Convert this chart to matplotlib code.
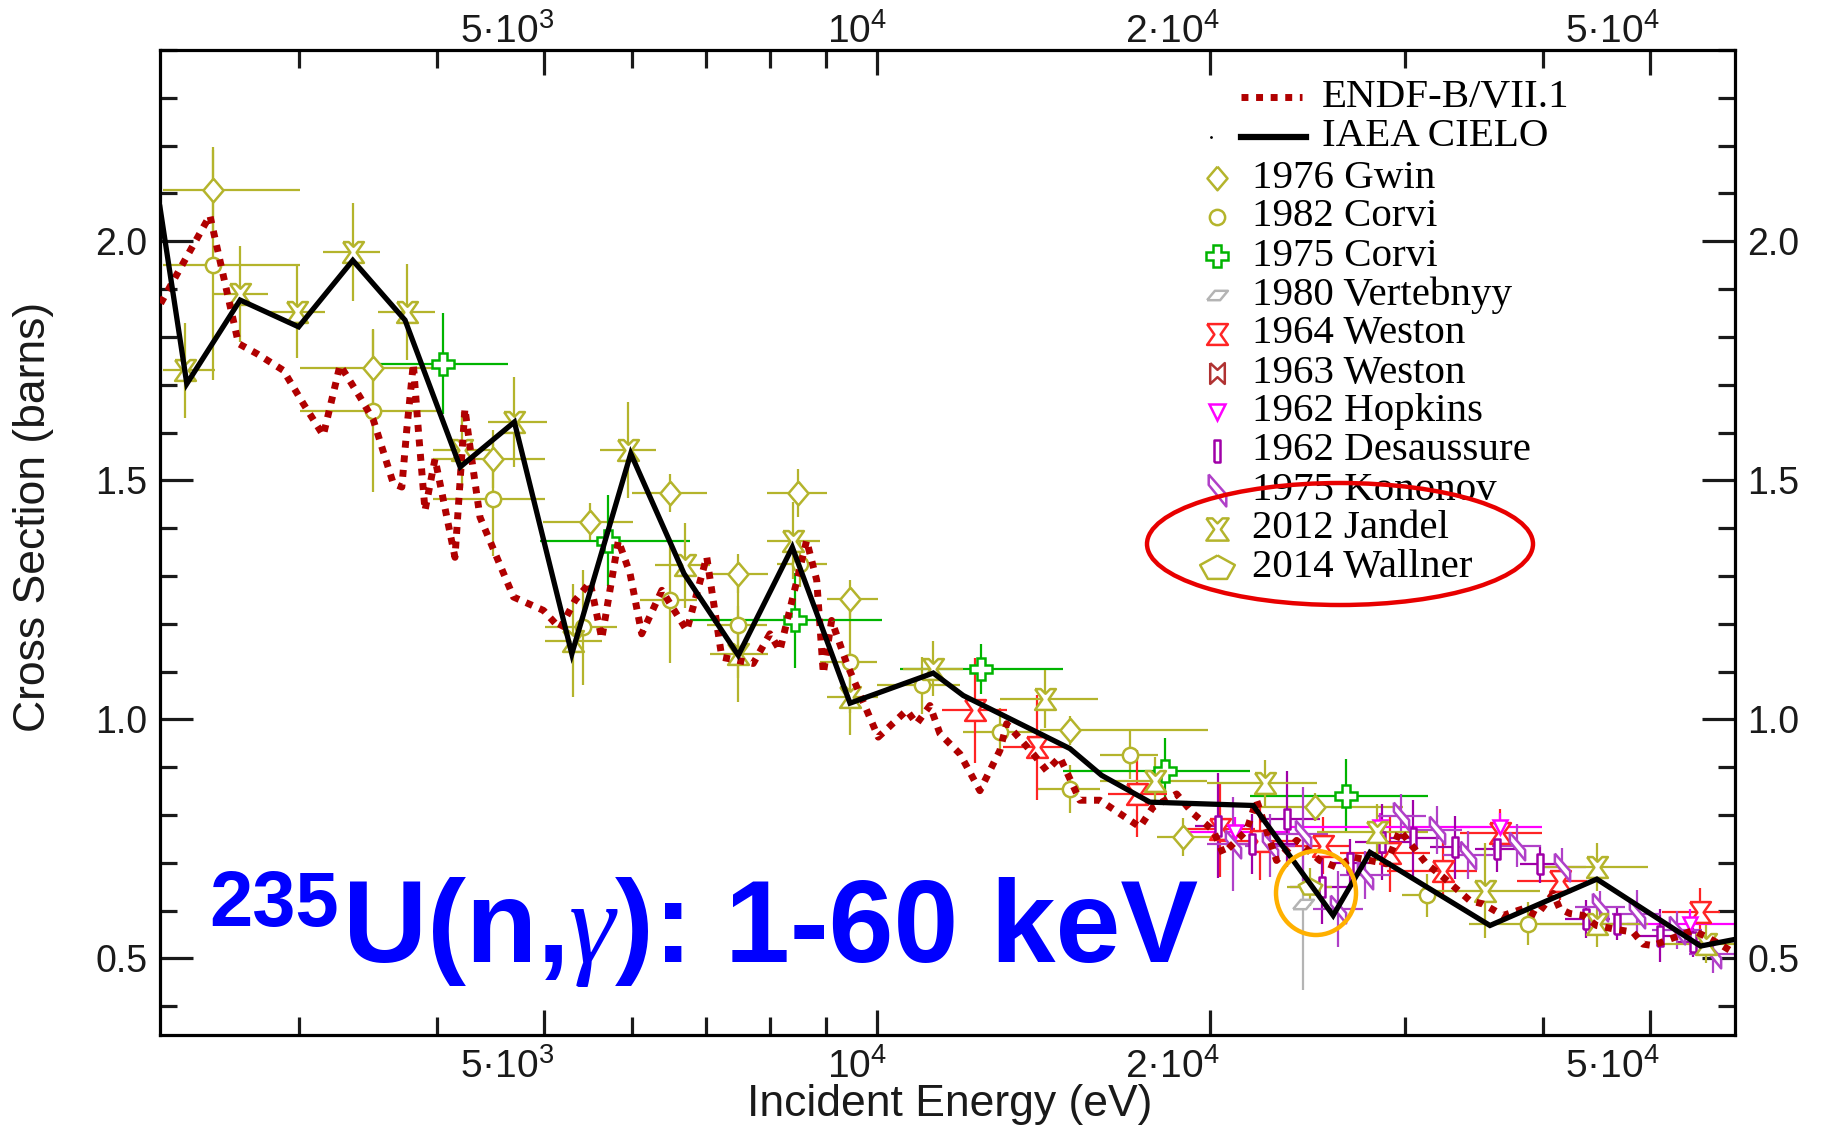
import matplotlib
matplotlib.use("Agg")
import matplotlib.pyplot as plt
import matplotlib.transforms as mtransforms
import numpy as np
from matplotlib.patches import Ellipse
from matplotlib.ticker import FixedLocator, MultipleLocator, NullFormatter, FixedFormatter

plt.rcParams['font.family'] = ['Liberation Sans', 'DejaVu Sans']
plt.rcParams['mathtext.default'] = 'regular'

# ---- evaluated curves (energy in eV, cross section in barns)
endf_e = [2250, 2493, 2646, 2749, 2905, 3029, 3157, 3269, 3408, 3504, 3653, 3718, 3756, 3808,
          3848, 3902, 3984, 4153, 4240, 4285, 4375, 4691, 4993, 5169, 5333, 5503, 5638, 5836,
          5980, 6127, 6389, 6730, 7015, 7239, 7728, 8002, 8170, 8637, 8821, 8943, 9099, 9389,
          10027, 10638, 10862, 11166, 11402, 11885, 12390, 12917, 13100, 13844, 14235, 14636,
          15256, 15905, 17289, 17775, 18664, 19320, 20142, 20565, 21592, 22045, 22982, 23961,
          25148, 26037, 26958, 28893, 29709, 31407, 32510, 34372, 35336, 36838, 38400, 39498,
          40886, 41450, 42330, 43517, 44745, 46316, 48285, 49307, 50339, 51761, 53211, 54713,
          56259, 57838, 59458]
endf_xs = [1.870, 2.054, 1.786, 1.765, 1.730, 1.660, 1.594, 1.741, 1.674, 1.626, 1.493, 1.486,
           1.605, 1.744, 1.605, 1.437, 1.545, 1.339, 1.650, 1.570, 1.423, 1.256, 1.228, 1.190,
           1.249, 1.287, 1.169, 1.374, 1.305, 1.179, 1.270, 1.186, 1.340, 1.130, 1.117, 1.179,
           1.144, 1.374, 1.291, 1.096, 1.207, 1.117, 0.963, 1.019, 0.991, 1.029, 0.970, 0.928,
           0.851, 0.935, 0.991, 0.928, 0.893, 0.921, 0.831, 0.831, 0.775, 0.817, 0.844, 0.803,
           0.768, 0.719, 0.768, 0.831, 0.705, 0.747, 0.705, 0.691, 0.712, 0.698, 0.768, 0.698,
           0.670, 0.621, 0.614, 0.590, 0.604, 0.590, 0.636, 0.604, 0.594, 0.590, 0.569, 0.562,
           0.555, 0.530, 0.527, 0.538, 0.548, 0.559, 0.545, 0.530, 0.513]

cielo_e = [2247, 2376, 2655, 2999, 3357, 3743, 4198, 4700, 5297, 5989, 6691, 7492, 8384, 9454,
           11243, 11969, 14946, 15966, 17654, 21890, 25856, 27917, 35840, 44774, 55564, 59700]
cielo_xs = [2.071, 1.702, 1.877, 1.821, 1.960, 1.835, 1.528, 1.622, 1.137, 1.556, 1.305, 1.134,
            1.360, 1.034, 1.097, 1.050, 0.939, 0.883, 0.827, 0.820, 0.590, 0.722, 0.569, 0.666,
            0.526, 0.540]

# ---- experiments: energy, xs, xs error, energy bin low / high
gwin_e = [2508, 3504, 4498, 5503, 6500, 7492, 8487, 9453, 14946, 18920, 24888]
gwin_xs = [2.108, 1.734, 1.545, 1.413, 1.474, 1.305, 1.474, 1.252, 0.977, 0.754, 0.817]
gwin_dxs = [0.09, 0.08, 0.06, 0.04, 0.04, 0.04, 0.05, 0.04, 0.03, 0.04, 0.03]
gwin_lo = [2262, 3008, 3967, 4989, 6001, 7063, 7948, 9006, 14039, 17914, 21742]
gwin_hi = [3008, 4009, 5010, 6017, 7015, 7977, 9006, 10027, 19920, 20086, 29894]

corvi82_e = [2508, 3504, 4498, 5427, 6500, 7492, 8518, 9453, 10976, 12917, 14946, 16933, 31407, 38800]
corvi82_xs = [1.950, 1.646, 1.462, 1.193, 1.249, 1.197, 1.326, 1.120, 1.071, 0.973, 0.855, 0.925, 0.632, 0.573]
corvi82_dxs = [0.24, 0.17, 0.12, 0.12, 0.13, 0.11, 0.05, 0.107, 0.06, 0.05, 0.05, 0.05, 0.045, 0.045]
corvi82_lo = [2262, 3008, 3967, 5010, 6106, 7015, 8115, 8883, 9994, 11960, 13980, 15905, 29833, 34300]
corvi82_hi = [3008, 4009, 5010, 5819, 6871, 7948, 9006, 9994, 11885, 14039, 15905, 17951, 32500, 43752]

corvi75_e = [4048, 5715, 8431, 12417, 18214, 26532]
corvi75_xs = [1.744, 1.374, 1.207, 1.106, 0.892, 0.840]
corvi75_dxs = [0.105, 0.096, 0.10, 0.052, 0.07, 0.077]
corvi75_lo = [3455, 4958, 6775, 10490, 14730, 21742]
corvi75_hi = [4640, 6775, 10098, 14730, 21742, 31493]

vert_e = [24300]
vert_xs = [0.614]
vert_dxs = [0.18]
vert_lo = [24300]
vert_hi = [24300]

weston64_e = [12264, 13941, 17171, 20423, 22198, 25322, 29099, 32510, 36585, 41449, 55478]
weston64_xs = [1.019, 0.942, 0.845, 0.770, 0.745, 0.736, 0.720, 0.684, 0.762, 0.663, 0.597]
weston64_dxs = [0.11, 0.11, 0.09, 0.10, 0.08, 0.06, 0.08, 0.06, 0.05, 0.04, 0.05]
weston64_lo = [11442, 12999, 16175, 18990, 20423, 22662, 26224, 28916, 33659, 37908, 51263]
weston64_hi = [13100, 14852, 18290, 21968, 24127, 26770, 31623, 34874, 39940, 43853, 57838]

hopkins_e = [21071, 28497, 36585, 54339]
hopkins_xs = [0.765, 0.775, 0.775, 0.573]
hopkins_dxs = [0.03, 0.03, 0.03, 0.03]
hopkins_lo = [19187, 23628, 33659, 47665]
hopkins_hi = [23628, 34372, 39940, 59700]

desa_e = [20350, 21820, 23470, 25240, 26770, 28600, 30540, 33320, 36340, 39770, 43820, 46650, 51050, 54710]
desa_xs = [0.778, 0.740, 0.792, 0.649, 0.700, 0.744, 0.751, 0.733, 0.730, 0.698, 0.583, 0.573, 0.548, 0.534]
desa_dxs = [0.11, 0.063, 0.10, 0.077, 0.05, 0.08, 0.08, 0.066, 0.05, 0.04, 0.04, 0.035, 0.055, 0.03]
desa_lo = [19390, 20640, 22200, 23630, 25680, 27050, 29100, 31620, 34730, 38140, 41890, 45000, 48900, 52800]
desa_hi = [21510, 23961, 25150, 26770, 27910, 30330, 32280, 34300, 38140, 41450, 46000, 48600, 53200, 56800]

kono_e = [21000, 22660, 24290, 26130, 27620, 29810, 32070, 34240, 37880, 41600, 45050, 48630, 52860, 57040]
kono_xs = [0.740, 0.736, 0.761, 0.604, 0.675, 0.799, 0.768, 0.716, 0.736, 0.691, 0.607, 0.594, 0.559, 0.510]
kono_dxs = [0.098, 0.066, 0.098, 0.08, 0.05, 0.045, 0.05, 0.05, 0.045, 0.04, 0.035, 0.05, 0.04, 0.04]
kono_lo = [19900, 21500, 23000, 24800, 26200, 28300, 30400, 32500, 36000, 39500, 42800, 46200, 50200, 54200]
kono_hi = [22100, 23900, 25600, 27500, 29100, 31400, 33800, 36100, 39900, 43800, 47500, 51200, 55700, 60100]

jandel_e = [2367, 2655, 2987, 3357, 3756, 4211, 4699, 5314, 5958, 6705, 7492, 8402, 9453, 11243,
            14186, 17839, 22428, 28302, 35458, 44745, 44745, 56259]
jandel_xs = [1.730, 1.890, 1.852, 1.978, 1.852, 1.563, 1.622, 1.165, 1.563, 1.322, 1.137, 1.374,
             1.047, 1.106, 1.043, 0.872, 0.866, 0.764, 0.642, 0.691, 0.573, 0.530]
jandel_dxs = [0.10, 0.10, 0.096, 0.103, 0.10, 0.08, 0.094, 0.118, 0.10, 0.089, 0.10, 0.08, 0.08,
              0.058, 0.06, 0.05, 0.05, 0.06, 0.10, 0.05, 0.05, 0.04]
jandel_lo = [2262, 2510, 2826, 3157, 3538, 3967, 4449, 5010, 5618, 6300, 7063, 7948, 9006, 10556,
             12917, 15905, 19876, 24990, 31493, 39510, 39770, 51050]
jandel_hi = [2520, 2814, 3168, 3553, 3984, 4467, 5031, 5638, 6318, 7063, 7977, 8883, 10027, 11960,
             15847, 19876, 24990, 31493, 39770, 49787, 49800, 59700]

wallner_e = [24636]
wallner_xs = [0.650]
wallner_dxs = [0.04]
wallner_lo = [23500]
wallner_hi = [25800]

xtick_e = [5000, 10000, 20000, 50000]
xtick_txt = ['5·10$^3$', '10$^4$', '2·10$^4$', '5·10$^4$']
xminor_e = [3000, 4000, 6000, 7000, 8000, 9000, 30000, 40000]
ytick_v = [0.5, 1.0, 1.5, 2.0]
ytick_txt = ['0.5', '1.0', '1.5', '2.0']


# ---- marker shapes (closed outlines)
def shape(pts):
    return pts + [pts[0]]


m_diamond = shape([(0, 1), (0.85, 0), (0, -1), (-0.85, 0)])
m_para = shape([(-1, -0.45), (0.25, -0.45), (1, 0.45), (-0.25, 0.45)])
m_hourglass = shape([(-1, 1), (1, 1), (0.3, 0), (1, -1), (-1, -1), (-0.3, 0)])
m_bowtie = shape([(-0.7, 1), (0, 0.35), (0.7, 1), (0.7, -1), (0, -0.35), (-0.7, -1)])
m_rect = shape([(-0.3, -1), (0.3, -1), (0.3, 1), (-0.3, 1)])
m_kono = shape([(-0.55, 1), (0.55, -0.25), (0.55, -1), (-0.55, 0.35)])
m_jandel = shape([(-1, 1), (-0.45, 1), (0, 0.55), (0.45, 1), (1, 1), (0.3, 0), (1, -1), (-1, -1), (-0.3, 0)])
m_wallner = shape([(0, 0.75), (1, 0.2), (0.55, -0.6), (-0.55, -0.6), (-1, 0.2)])

olive = '#b4b42c'
sets = [
    ('1976 Gwin', gwin_e, gwin_xs, gwin_dxs, gwin_lo, gwin_hi, olive, m_diamond, 17, 17),
    ('1982 Corvi', corvi82_e, corvi82_xs, corvi82_dxs, corvi82_lo, corvi82_hi, olive, 'o', 11, 11),
    ('1975 Corvi', corvi75_e, corvi75_xs, corvi75_dxs, corvi75_lo, corvi75_hi, '#00b400', 'P', 16, 16),
    ('1980 Vertebnyy', vert_e, vert_xs, vert_dxs, vert_lo, vert_hi, '#b4b4b4', m_para, 15, 15),
    ('1964 Weston', weston64_e, weston64_xs, weston64_dxs, weston64_lo, weston64_hi, '#ff2424', m_hourglass, 15, 15),
    ('1963 Weston', [], [], [], [], [], '#b03232', m_bowtie, 15, 15),
    ('1962 Hopkins', hopkins_e, hopkins_xs, hopkins_dxs, hopkins_lo, hopkins_hi, '#ff00ff', 'v', 10, 11),
    ('1962 Desaussure', desa_e, desa_xs, desa_dxs, desa_lo, desa_hi, '#a000a8', m_rect, 14, 16),
    ('1975 Kononov', kono_e, kono_xs, kono_dxs, kono_lo, kono_hi, '#b040c8', m_kono, 20, 23),
    ('2012 Jandel', jandel_e, jandel_xs, jandel_dxs, jandel_lo, jandel_hi, olive, m_jandel, 15, 16),
    ('2014 Wallner', wallner_e, wallner_xs, wallner_dxs, wallner_lo, wallner_hi, olive, m_wallner, 17, 25),
]

W, H = 1822, 1131
fig = plt.figure(figsize=(W / 100, H / 100), dpi=100)
ax = fig.add_axes([160 / W, 1 - 1035 / H, 1575 / W, 985 / H])
ax.set_xscale('log')
ax.set_xlim(2247, 59700)
ax.set_ylim(0.34, 2.40)

for name, e, xs, dxs, lo, hi, col, mk, ms, lms in sets:
    if not e:
        continue
    e = np.array(e, float)
    xerr = [e - np.array(lo, float), np.array(hi, float) - e]
    ax.errorbar(e, xs, yerr=dxs, xerr=xerr, fmt='none', ecolor=col, elinewidth=1.6, capsize=0, zorder=2)
    ax.plot(e, xs, linestyle='none', marker=mk, ms=ms, mfc='white', mec=col, mew=1.8, zorder=3)

ax.plot(endf_e, endf_xs, color='#b00000', lw=5, linestyle=(0, (1, 1.1)), dash_capstyle='butt', zorder=4)
ax.plot(cielo_e, cielo_xs, color='black', lw=3.8, solid_joinstyle='miter', zorder=5)

# ---- axes styling
ink = '#1a1a1a'
for sp in ax.spines.values():
    sp.set_linewidth(2.3)
ax.xaxis.set_major_locator(FixedLocator(xtick_e))
ax.xaxis.set_major_formatter(NullFormatter())
ax.xaxis.set_minor_locator(FixedLocator(xminor_e))
ax.xaxis.set_minor_formatter(NullFormatter())
ax.yaxis.set_major_locator(FixedLocator(ytick_v))
ax.yaxis.set_major_formatter(FixedFormatter(ytick_txt))
ax.yaxis.set_minor_locator(MultipleLocator(0.1))
ax.tick_params(which='both', direction='in', top=True, right=True, labelright=True,
               width=2.3, labelsize=27, colors=ink)
ax.tick_params(axis='x', which='major', length=18)
ax.tick_params(axis='x', which='minor', length=13)
ax.tick_params(axis='y', which='major', length=24, pad=9)
ax.tick_params(axis='y', which='minor', length=12)
for t in ax.xaxis.get_major_ticks():
    if abs(t.get_loc() - 10000) < 1:
        t.tick1line.set_markersize(32)
        t.tick2line.set_markersize(32)

# x tick labels: right-aligned just past the tick, top and bottom
xtrans = mtransforms.offset_copy(mtransforms.blended_transform_factory(ax.transData, ax.transAxes),
                                 fig=fig, x=10, y=0, units='dots')
for e, s in zip(xtick_e, xtick_txt):
    ax.text(e, -0.0437, s, transform=xtrans, ha='right', va='baseline', fontsize=28, color=ink)
    ax.text(e, 1.0072, s, transform=xtrans, ha='right', va='baseline', fontsize=28, color=ink)

ax.set_xlabel('Incident Energy (eV)', fontsize=32, color=ink)
ax.set_ylabel('Cross Section (barns)', fontsize=32, color=ink)
ax.xaxis.set_label_coords(0.5016, -0.05)
ax.yaxis.set_label_coords(-0.067, 0.526)


# ---- legend drawn by hand (two styles of entries)
def axf(px, py):
    return ((px - 160) / 1575, (1035 - py) / 985)


serif = ['Liberation Serif', 'DejaVu Serif']
lfs = 29.5
x0, y0 = axf(1241, 97)
x1, _ = axf(1302, 97)
ax.plot([x0, x1], [y0, y0], transform=ax.transAxes, color='#b00000', lw=5,
        linestyle=(0, (1, 1.1)), dash_capstyle='butt', clip_on=False)
tx, ty = axf(1322, 97)
ax.text(tx, ty, 'ENDF-B/VII.1', transform=ax.transAxes, family=serif, fontsize=lfs, va='center')
x0, y0 = axf(1241, 137)
x1, _ = axf(1306, 137)
ax.plot([x0, x1], [y0, y0], transform=ax.transAxes, color='black', lw=4.5, clip_on=False)
dx, dy = axf(1211, 137)
ax.plot([dx], [dy], transform=ax.transAxes, marker='.', ms=2, color='black', clip_on=False)
tx, ty = axf(1322, 137)
ax.text(tx, ty, 'IAEA CIELO', transform=ax.transAxes, family=serif, fontsize=lfs, va='center')

for k, (name, e, xs, dxs, lo, hi, col, mk, ms, lms) in enumerate(sets):
    py = 178 + 39 * k
    mx, my = axf(1217, py)
    ax.plot([mx], [my], transform=ax.transAxes, linestyle='none', marker=mk, ms=lms,
            mfc='white', mec=col, mew=1.8, clip_on=False)
    tx, ty = axf(1252, py)
    ax.text(tx, ty, name, transform=ax.transAxes, family=serif, fontsize=lfs, va='center')

# ---- highlight ellipses
fig.add_artist(Ellipse((1340 / W, 1 - 544 / H), 386 / W, 122 / H, transform=fig.transFigure,
                       fill=False, ec='#e80000', lw=3.2))
fig.add_artist(Ellipse((1316 / W, 1 - 893 / H), 80 / W, 84 / H, transform=fig.transFigure,
                       fill=False, ec='#ffb000', lw=3.2))

# ---- big blue reaction label, assembled from pieces
rend = fig.canvas.get_renderer()


def piece(x, y, s, **kw):
    t = fig.text(x / W, 1 - y / H, s, ha='left', va='baseline', color='#0000ff', **kw)
    return t.get_window_extent(rend).x1


bold = dict(family=['Liberation Sans', 'DejaVu Sans'], weight='bold')
xe = piece(209, 926, '235', size=56, **bold)
xe = piece(xe + 4, 962, 'U(n,', size=84, **bold)
xe = piece(xe, 962, 'γ', size=84, family=serif, style='italic')
piece(xe, 962, '): 1-60 keV', size=84, **bold)

fig.savefig('out.png', dpi=100)
